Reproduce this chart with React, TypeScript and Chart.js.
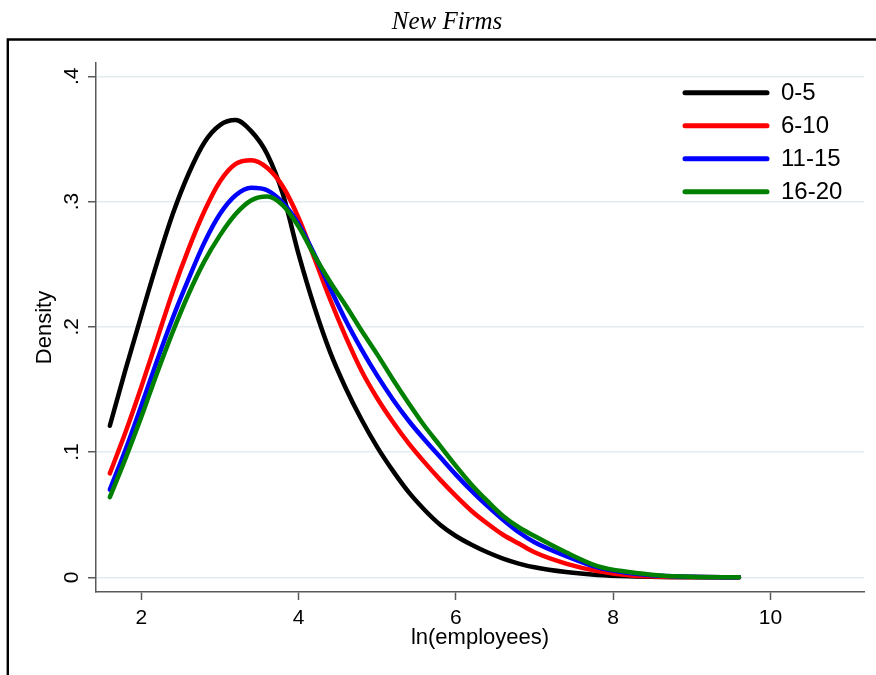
import React, { useEffect, useRef } from "react";
import { Chart, registerables } from "chart.js";

Chart.register(...registerables);

// ---- data ----
const titleText = "New Firms";
const xTitle = "ln(employees)";
const yTitle = "Density";

const xValues = [1.6, 1.8, 2.0, 2.2, 2.4, 2.6, 2.8, 3.0, 3.2, 3.4, 3.6, 3.8, 4.0, 4.2, 4.4, 4.6, 4.8, 5.0, 5.2, 5.4, 5.6, 5.8, 6.0, 6.2, 6.4, 6.6, 6.8, 7.0, 7.4, 7.8, 8.2, 8.6, 9.0, 9.6];

const series0to5 = [0.121, 0.166, 0.209, 0.251, 0.290, 0.322, 0.347, 0.361, 0.365, 0.356, 0.338, 0.306, 0.258, 0.216, 0.180, 0.151, 0.126, 0.104, 0.085, 0.068, 0.054, 0.042, 0.033, 0.026, 0.020, 0.015, 0.011, 0.008, 0.0042, 0.0019, 0.0008, 0.0003, 0.0001, 0];
const series6to10 = [0.083, 0.116, 0.152, 0.190, 0.228, 0.262, 0.292, 0.316, 0.330, 0.333, 0.327, 0.312, 0.287, 0.255, 0.222, 0.192, 0.165, 0.143, 0.124, 0.107, 0.092, 0.078, 0.065, 0.053, 0.043, 0.034, 0.027, 0.020, 0.011, 0.005, 0.0016, 0.0005, 0.0002, 0];
const series11to15 = [0.070, 0.102, 0.137, 0.173, 0.207, 0.238, 0.267, 0.290, 0.305, 0.311, 0.309, 0.299, 0.282, 0.258, 0.231, 0.205, 0.182, 0.161, 0.142, 0.125, 0.110, 0.096, 0.082, 0.069, 0.057, 0.046, 0.036, 0.028, 0.017, 0.008, 0.0035, 0.0012, 0.0004, 0];
const series16to20 = [0.064, 0.095, 0.128, 0.163, 0.196, 0.226, 0.252, 0.273, 0.290, 0.301, 0.304, 0.297, 0.280, 0.257, 0.236, 0.217, 0.197, 0.178, 0.158, 0.139, 0.121, 0.105, 0.089, 0.074, 0.061, 0.049, 0.040, 0.033, 0.020, 0.009, 0.0042, 0.0015, 0.0004, 0];

const seriesLabels = ["0-5", "6-10", "11-15", "16-20"];
const seriesColors = ["#000000", "#ff0000", "#0000ff", "#008000"];
const seriesValues = [series0to5, series6to10, series11to15, series16to20];

const xTickValues = [2, 4, 6, 8, 10];
const xTickLabels = ["2", "4", "6", "8", "10"];
const yTickValues = [0, 0.1, 0.2, 0.3, 0.4];
const yTickLabels = ["0", ".1", ".2", ".3", ".4"];

const xMin = 1.424;
const xMax = 11.19;
const yMin = -0.0117;
const yMax = 0.4106;

const SANS = "'Liberation Sans', Arial, sans-serif";
const SERIF = "'Liberation Serif', 'Times New Roman', serif";
const AXIS_GRAY = "#595959";

const decorPlugin = {
  id: "stataDecor",
  beforeDraw(chart: any) {
    const { ctx, width, height } = chart;
    ctx.save();
    ctx.fillStyle = "#ffffff";
    ctx.fillRect(0, 0, width, height);
    ctx.strokeStyle = "#000000";
    ctx.lineWidth = 2.4;
    ctx.beginPath();
    ctx.moveTo(7.8, height + 4);
    ctx.lineTo(7.8, 39.5);
    ctx.lineTo(width + 4, 39.5);
    ctx.stroke();
    ctx.restore();
  },
  afterDraw(chart: any) {
    const { ctx, chartArea } = chart;
    const ys = chart.scales.y;
    ctx.save();
    // rotated y tick labels
    ctx.fillStyle = "#000000";
    ctx.font = `21px ${SANS}`;
    ctx.textAlign = "center";
    ctx.textBaseline = "alphabetic";
    yTickValues.forEach((v, i) => {
      const py = ys.getPixelForValue(v);
      ctx.save();
      ctx.translate(ys.right - 18, py);
      ctx.rotate(-Math.PI / 2);
      ctx.fillText(yTickLabels[i], 0, 0);
      ctx.restore();
    });
    // legend
    const ds = chart.data.datasets;
    ctx.font = `24px ${SANS}`;
    ctx.textAlign = "left";
    ctx.textBaseline = "middle";
    ds.forEach((d: any, i: number) => {
      const y = chartArea.top + 29.7 + i * 33;
      ctx.strokeStyle = d.borderColor;
      ctx.lineWidth = 5;
      ctx.lineCap = "round";
      ctx.beginPath();
      ctx.moveTo(chartArea.right - 179, y);
      ctx.lineTo(chartArea.right - 97, y);
      ctx.stroke();
      ctx.fillStyle = "#000000";
      ctx.fillText(d.label, chartArea.right - 83, y + 1);
    });
    ctx.restore();
  },
};

export default function App() {
  const canvasRef = useRef<HTMLCanvasElement | null>(null);

  useEffect(() => {
    const canvas = canvasRef.current;
    if (!canvas) return;
    const chart = new Chart(canvas, {
      type: "line",
      data: {
        datasets: seriesValues.map((vals, i) => ({
          label: seriesLabels[i],
          data: xValues.map((x, j) => ({ x, y: vals[j] })),
          borderColor: seriesColors[i],
          backgroundColor: seriesColors[i],
          borderWidth: 4.5,
          pointRadius: 0,
          fill: false,
          cubicInterpolationMode: "monotone",
          borderCapStyle: "round",
          borderJoinStyle: "round",
          order: 3 - i,
        })),
      },
      options: {
        responsive: false,
        animation: false,
        layout: { padding: { left: 30, right: 12, top: 0, bottom: 0 } },
        plugins: {
          legend: { display: false },
          tooltip: { enabled: false },
          title: {
            display: true,
            text: titleText,
            color: "#000000",
            font: { family: SERIF, size: 25, style: "italic", weight: "normal" },
            padding: { top: 7, bottom: 26 },
          },
        },
        scales: {
          x: {
            type: "linear",
            min: xMin,
            max: xMax,
            afterBuildTicks: (s: any) => {
              s.ticks = xTickValues.map((v) => ({ value: v }));
            },
            afterFit: (s: any) => {
              s.height = 83;
            },
            ticks: {
              color: "#000000",
              font: { family: SANS, size: 21 },
              padding: 6,
              maxRotation: 0,
              autoSkip: false,
              callback: (v: any) => {
                const k = xTickValues.indexOf(Number(v));
                return k >= 0 ? xTickLabels[k] : "";
              },
            },
            grid: {
              display: true,
              drawOnChartArea: false,
              drawTicks: true,
              tickLength: 8,
              tickColor: AXIS_GRAY,
              tickWidth: 1.5,
            },
            border: { display: true, color: AXIS_GRAY, width: 1.5 },
            title: {
              display: true,
              text: xTitle,
              color: "#000000",
              font: { family: SANS, size: 22 },
              padding: { top: 0, bottom: 24 },
            },
          },
          y: {
            type: "linear",
            min: yMin,
            max: yMax,
            afterBuildTicks: (s: any) => {
              s.ticks = yTickValues.map((v) => ({ value: v }));
            },
            afterFit: (s: any) => {
              s.width = 66;
            },
            ticks: { display: false },
            grid: {
              display: true,
              drawOnChartArea: true,
              color: "#e3ebef",
              lineWidth: 1.5,
              drawTicks: true,
              tickLength: 8,
              tickColor: AXIS_GRAY,
              tickWidth: 1.5,
            },
            border: { display: true, color: AXIS_GRAY, width: 1.5 },
            title: {
              display: true,
              text: yTitle,
              color: "#000000",
              font: { family: SANS, size: 22 },
              padding: { top: 1.5, bottom: 0 },
            },
          },
        },
      },
      plugins: [decorPlugin],
    } as any);
    return () => {
      chart.destroy();
    };
  }, []);

  return (
    <div style={{ position: "absolute", left: 0, top: 0, width: 876, height: 675, background: "#fff" }}>
      <canvas ref={canvasRef} width={876} height={675} style={{ display: "block" }} />
    </div>
  );
}
